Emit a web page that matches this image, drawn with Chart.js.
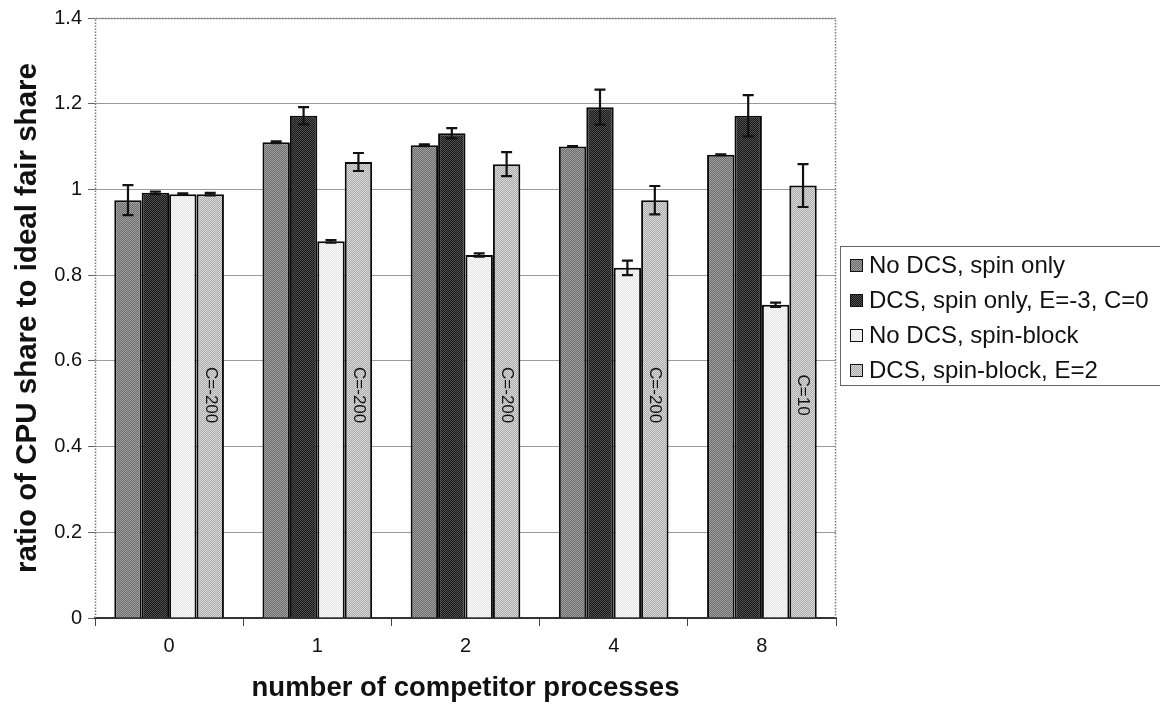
<!DOCTYPE html>
<html>
<head>
<meta charset="utf-8">
<script src="https://cdn.jsdelivr.net/npm/chart.js@4.4.1/dist/chart.umd.min.js"></script>
<style>
  html, body { margin: 0; padding: 0; background: #fff; }
  #wrap { width: 1160px; height: 707px; }
</style>
</head>
<body>
<div id="wrap"><canvas id="c" width="1160" height="707"></canvas></div>
<script>
// Number of competitor processes (x categories)
const categories = ['0', '1', '2', '4', '8'];

// Series names
const seriesNames = [
  'No DCS, spin only',
  'DCS, spin only, E=-3, C=0',
  'No DCS, spin-block',
  'DCS, spin-block, E=2'
];

// Ratio of CPU share to ideal fair share, per series
const noDcsSpin      = [0.975, 1.110, 1.103, 1.100, 1.081];
const dcsSpin        = [0.992, 1.172, 1.131, 1.192, 1.172];
const noDcsSpinBlock = [0.989, 0.879, 0.847, 0.817, 0.731];
const dcsSpinBlock   = [0.989, 1.064, 1.059, 0.975, 1.009];

// Error bar half-widths, per series
const noDcsSpinErr      = [0.035, 0.002, 0.002, 0.001, 0.001];
const dcsSpinErr        = [0.003, 0.020, 0.012, 0.041, 0.048];
const noDcsSpinBlockErr = [0.002, 0.003, 0.004, 0.017, 0.005];
const dcsSpinBlockErr   = [0.003, 0.021, 0.028, 0.033, 0.050];

// Parameter labels written inside the "DCS, spin-block" bars
const cLabels = ['C=-200', 'C=-200', 'C=-200', 'C=-200', 'C=10'];

// Y axis tick labels
const yTickLabels = ['0', '0.2', '0.4', '0.6', '0.8', '1', '1.2', '1.4'];

const FONT = '"Liberation Sans", Arial, Helvetica, sans-serif';

// Halftone-like checker fills for the bars
function checker(a, b) {
  const p = document.createElement('canvas');
  p.width = 2; p.height = 2;
  const g = p.getContext('2d');
  g.fillStyle = a; g.fillRect(0, 0, 2, 2);
  g.fillStyle = b; g.fillRect(0, 0, 1, 1); g.fillRect(1, 1, 1, 1);
  return g.createPattern(p, 'repeat');
}
const fills = [
  checker('#6a6a6a', '#a2a2a2'),
  checker('#161616', '#525252'),
  checker('#e3e3e3', '#fbfbfb'),
  checker('#aaaaaa', '#dadada')
];

const values = [noDcsSpin, dcsSpin, noDcsSpinBlock, dcsSpinBlock];
const errors = [noDcsSpinErr, dcsSpinErr, noDcsSpinBlockErr, dcsSpinBlockErr];

// Dotted frame around the plot area
const framePlugin = {
  id: 'frame',
  beforeDatasetsDraw(chart) {
    const { ctx, chartArea: a } = chart;
    ctx.save();
    ctx.strokeStyle = '#7a7a7a';
    ctx.lineWidth = 1.5;
    ctx.setLineDash([1.5, 1.5]);
    ctx.beginPath();
    ctx.moveTo(a.left + 0.5, a.bottom);
    ctx.lineTo(a.left + 0.5, a.top + 0.5);
    ctx.lineTo(a.right - 0.5, a.top + 0.5);
    ctx.lineTo(a.right - 0.5, a.bottom);
    ctx.stroke();
    ctx.restore();
  }
};

// Error bars and in-bar labels
const errorPlugin = {
  id: 'errbars',
  afterDatasetsDraw(chart) {
    const { ctx } = chart;
    const y = chart.scales.y;
    ctx.save();
    ctx.strokeStyle = '#111';
    ctx.lineWidth = 2.2;
    values.forEach((vals, i) => {
      const meta = chart.getDatasetMeta(i);
      meta.data.forEach((bar, j) => {
        const e = errors[i][j];
        const yTop = y.getPixelForValue(vals[j] + e);
        const yBot = y.getPixelForValue(vals[j] - e);
        const x = bar.x;
        const cap = 5.5;
        ctx.beginPath();
        ctx.moveTo(x, yTop); ctx.lineTo(x, yBot);
        ctx.moveTo(x - cap, yTop); ctx.lineTo(x + cap, yTop);
        ctx.moveTo(x - cap, yBot); ctx.lineTo(x + cap, yBot);
        ctx.stroke();
      });
    });
    // rotated parameter labels in the last series
    const meta = chart.getDatasetMeta(3);
    ctx.fillStyle = '#111';
    ctx.font = '17px ' + FONT;
    ctx.textAlign = 'center';
    ctx.textBaseline = 'middle';
    meta.data.forEach((bar, j) => {
      ctx.save();
      ctx.translate(bar.x, y.getPixelForValue(0.52));
      ctx.rotate(Math.PI / 2);
      ctx.fillText(cLabels[j], 0, 0);
      ctx.restore();
    });
    ctx.restore();
  }
};

// Boxed legend at the right of the plot
const legendPlugin = {
  id: 'boxLegend',
  afterDraw(chart) {
    const { ctx, chartArea: a } = chart;
    const left = a.right + 4, top = 246, rowH = 35, bottom = 385;
    ctx.save();
    ctx.strokeStyle = '#666';
    ctx.lineWidth = 1;
    ctx.strokeRect(left + 0.5, top + 0.5, 1160, bottom - top);
    ctx.font = '24px ' + FONT;
    ctx.textBaseline = 'middle';
    ctx.textAlign = 'left';
    seriesNames.forEach((name, i) => {
      const cy = top + 19 + i * rowH;
      ctx.fillStyle = fills[i];
      ctx.fillRect(left + 10, cy - 6, 13, 13);
      ctx.strokeStyle = '#111';
      ctx.lineWidth = 1;
      ctx.strokeRect(left + 10.5, cy - 5.5, 12, 12);
      ctx.fillStyle = '#111';
      ctx.fillText(name, left + 29, cy + 1);
    });
    ctx.restore();
  }
};

new Chart(document.getElementById('c'), {
  type: 'bar',
  data: {
    labels: categories,
    datasets: values.map((v, i) => ({
      label: seriesNames[i],
      data: v,
      backgroundColor: fills[i],
      borderColor: '#0a0a0a',
      borderWidth: 2,
      borderSkipped: 'bottom',
      categoryPercentage: 0.74,
      barPercentage: 1.0
    }))
  },
  options: {
    responsive: false,
    devicePixelRatio: 1,
    animation: false,
    layout: { padding: { left: 0, right: 324, top: 17, bottom: 0 } },
    plugins: {
      legend: { display: false },
      tooltip: { enabled: false }
    },
    scales: {
      x: {
        offset: true,
        grid: {
          offset: true,
          drawOnChartArea: false,
          drawTicks: true,
          tickLength: 8,
          color: '#444',
          lineWidth: 1
        },
        border: { display: true, color: '#333', width: 2 },
        ticks: {
          color: '#111',
          padding: 8,
          font: { family: FONT, size: 20 }
        },
        title: {
          display: true,
          text: 'number of competitor processes',
          color: '#111',
          font: { family: FONT, size: 27.5, weight: 'bold' },
          padding: { top: 4, bottom: 2 }
        },
        afterFit(scale) { scale.height = 89; }
      },
      y: {
        min: 0,
        max: 1.4,
        ticks: {
          stepSize: 0.2,
          color: '#111',
          padding: 6,
          font: { family: FONT, size: 20 },
          callback: (v, i) => yTickLabels[i]
        },
        grid: {
          color: '#9a9a9a',
          lineWidth: 1,
          drawTicks: true,
          tickLength: 7,
          tickColor: '#666'
        },
        border: { display: false },
        title: {
          display: true,
          text: 'ratio of CPU share to ideal fair share',
          color: '#111',
          font: { family: FONT, size: 29.5, weight: 'bold' },
          padding: { top: 10, bottom: 0 }
        },
        afterFit(scale) { scale.width = 95; }
      }
    }
  },
  plugins: [framePlugin, errorPlugin, legendPlugin]
});
</script>
</body>
</html>
